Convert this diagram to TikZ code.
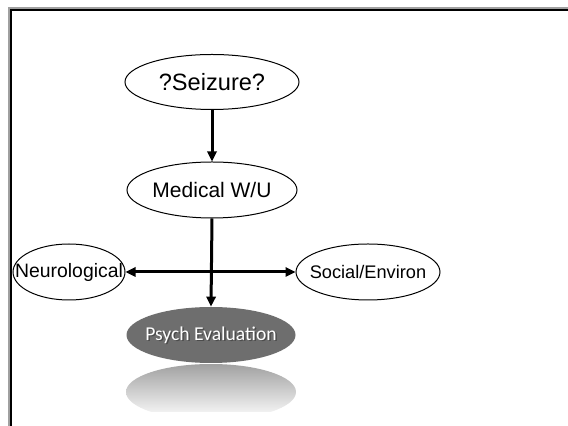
\documentclass[tikz,border=0pt]{standalone}
\usepackage{fontspec}
\setmainfont{Liberation Sans}
\newfontfamily\calibrifont{Carlito}
\usetikzlibrary{arrows.meta,shapes.geometric}
\definecolor{ink}{HTML}{000000}
\definecolor{frameshade}{HTML}{A0A0A0}
\definecolor{psychfill}{HTML}{6E6E6E}
\tikzset{
  >={Triangle[length=5pt,width=4.6pt]},
  % text kept out of the ellipse size, so minimum width/height decide it
  fixedsize/.style={
    execute at begin node={\hbox to 0pt\bgroup\hss},
    execute at end node={\hss\egroup}
  },
  oval/.style={
    ellipse,
    fixedsize,
    draw=ink,
    fill=white,
    line width=0.5pt,
    inner sep=0pt,
    minimum height=28pt,
    text=ink
  },
  psych/.style={
    ellipse,
    fixedsize,
    draw=none,
    fill=psychfill,
    inner sep=0pt,
    minimum height=28pt,
    text=white,
    font=\calibrifont\fontsize{9.8}{11}\selectfont
  },
  arrow/.style={->, line width=1.5pt, draw=ink},
  dblarrow/.style={<->, line width=1.5pt, draw=ink}
}

\begin{document}
\begin{tikzpicture}[x=0.5pt,y=-0.5pt]
  \useasboundingbox (0,0) rectangle (568,426);
  \fill[white] (0,0) rectangle (568,426);

  % slide frame
  \draw[frameshade, line width=1pt] (9,426) -- (9,8) -- (568,8);
  \draw[ink, line width=1pt] (11,426) -- (11,10) -- (568,10);

  \node[oval, minimum width=87pt, minimum height=27.5pt, font=\fontsize{11.8}{13}\selectfont] (seizure) at (212,82) {?Seizure?};
  \node[oval, minimum width=85pt, font=\fontsize{10.5}{12}\selectfont] (medical) at (212,190) {Medical W/U};
  \node[oval, minimum width=56pt, font=\fontsize{9.7}{12}\selectfont] (neuro) at (69,272) {Neurological};
  \node[oval, minimum width=72pt, font=\fontsize{9.1}{12}\selectfont] (social) at (368,272) {Social/Environ};

  % reflection under the psych oval
  \begin{scope}
    \clip (126,365) rectangle (296,412);
    \shade[top color=psychfill!65, bottom color=white] (211,392) ellipse [x radius=85, y radius=28];
  \end{scope}
  \node[psych, minimum width=84.5pt] (psychev) at (211,335) {};
  \node[psych, fill=none, text=black!70] (psychshadow) at (212.5,336.5) {Psych Evaluation};
  \node[psych, fill=none] (psychtext) at (211,335) {Psych Evaluation};

  \draw[arrow] (seizure.south) -- (medical.north);
  \draw[dblarrow] (neuro.east) -- (social.west);
  \draw[arrow] (medical.south) -- (psychev.north);
\end{tikzpicture}
\end{document}
